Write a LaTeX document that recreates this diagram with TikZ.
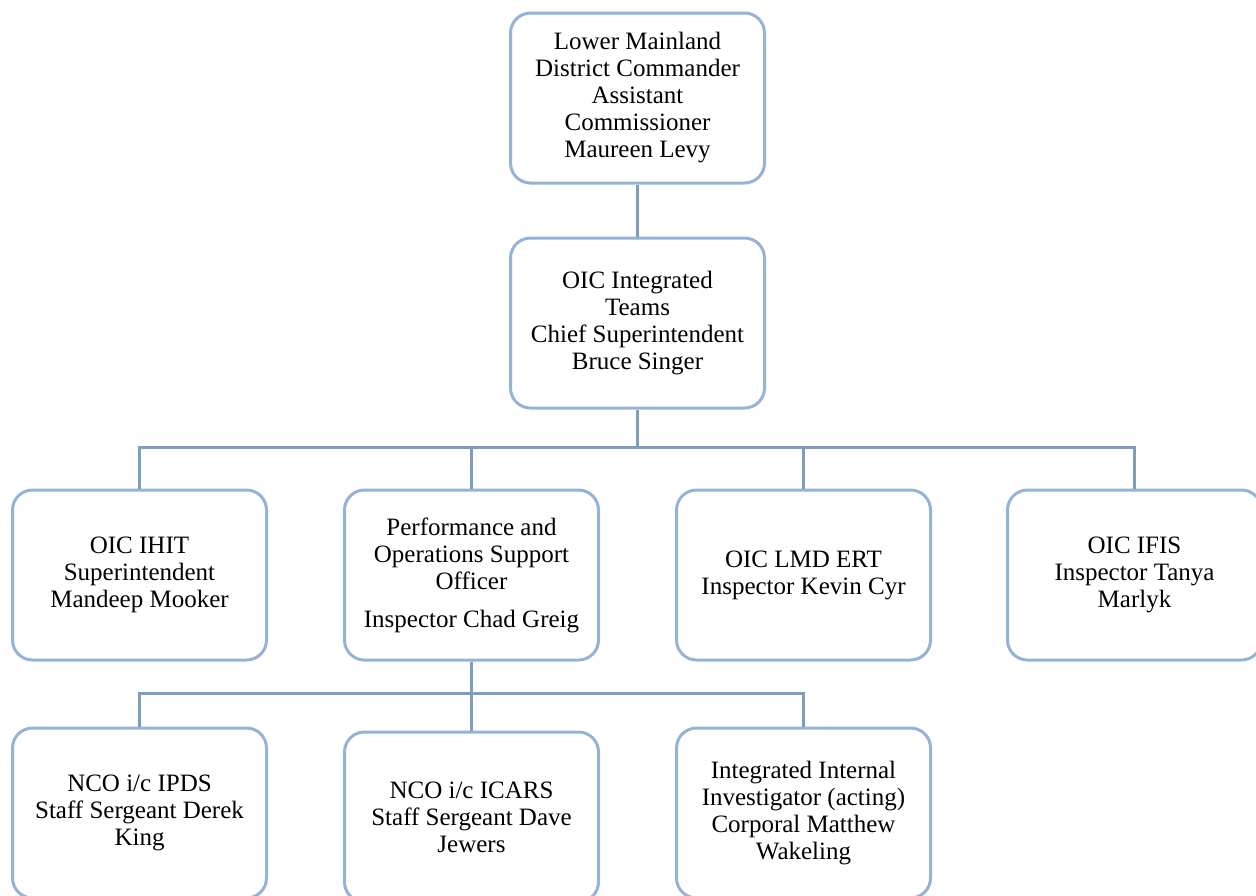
\documentclass[tikz,border=0pt]{standalone}
\usepackage{fontspec}
\setmainfont{Liberation Serif}
\definecolor{boxline}{HTML}{95B3D7}
\definecolor{linkline}{HTML}{809EBB}
\tikzset{
  post/.style={draw=boxline, line width=1.5pt, rounded corners=10pt, fill=white,
    minimum width=127pt, minimum height=85pt, inner sep=2pt, align=center,
    font=\fontsize{12.5}{13.5}\selectfont},
  link/.style={draw=linkline, line width=1.5pt}
}
\begin{document}
\begin{tikzpicture}[x=0.5pt,y=-0.5pt]
\useasboundingbox (0,0) rectangle (1256,895);
\clip (0,0) rectangle (1256,895);
% top of the chain
\node[post] (ldc) at (637.5,98) {Lower Mainland\\District Commander\\Assistant\\Commissioner\\Maureen Levy};
\node[post] (oic) at (637.5,323) {OIC Integrated\\Teams\\Chief Superintendent\\Bruce Singer};
% units
\node[post] (ihit) at (139.5,575) {OIC IHIT\\Superintendent\\Mandeep Mooker};
\node[post] (perf) at (471.5,575) {Performance and\\Operations Support\\Officer\\[5.5pt]Inspector Chad Greig};
\node[post] (ert) at (803.5,575) {OIC LMD ERT\\Inspector Kevin Cyr};
\node[post] (ifis) at (1134.5,575) {OIC IFIS\\Inspector Tanya\\Marlyk};
% under performance
\node[post] (ipds) at (139.5,813) {NCO i/c IPDS\\Staff Sergeant Derek\\King};
\node[post] (icars) at (471.5,817) {NCO i/c ICARS\\Staff Sergeant Dave\\Jewers};
\node[post] (iii) at (803.5,813) {Integrated Internal\\Investigator (acting)\\Corporal Matthew\\Wakeling};
% lines
\coordinate (hub) at (637.5,447);
\coordinate (hub2) at (471.5,693);
\draw[link] (ldc) -- (oic);
\draw[link] (oic) -- (hub);
\foreach \n in {ihit,perf,ert,ifis}
  \draw[link] (\n.north) |- (hub);
\draw[link] (perf) -- (hub2);
\foreach \n in {ipds,icars,iii}
  \draw[link] (\n.north) |- (hub2);
\end{tikzpicture}
\end{document}
